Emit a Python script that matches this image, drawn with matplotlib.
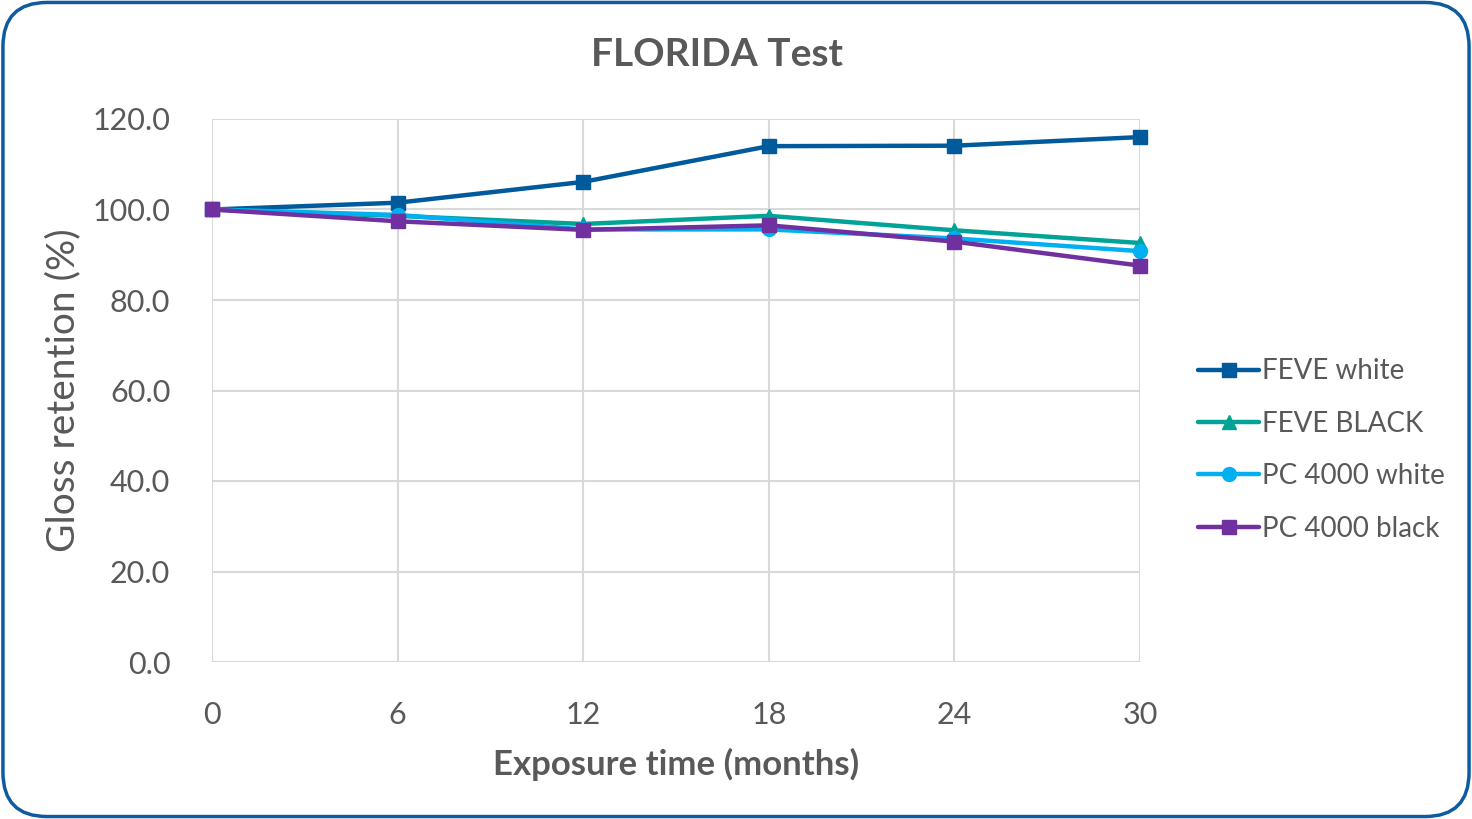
import matplotlib
matplotlib.use("Agg")
import matplotlib.pyplot as plt
from matplotlib.patches import FancyBboxPatch

months = [0, 6, 12, 18, 24, 30]
feve_white = [100.0, 101.5, 106.1, 114.0, 114.1, 116.0]
feve_black = [100.0, 98.6, 96.8, 98.6, 95.4, 92.6]
pc_white = [100.0, 98.8, 95.6, 95.6, 93.6, 90.8]
pc_black = [100.0, 97.4, 95.5, 96.5, 92.9, 87.6]
series_names = ["FEVE white", "FEVE BLACK", "PC 4000 white", "PC 4000 black"]
y_ticks = [0, 20, 40, 60, 80, 100, 120]

colors = ["#005A9C", "#00A396", "#00B0F0", "#7030A0"]
markers = ["s", "^", "o", "s"]

plt.rcParams['font.family'] = ['Lato', 'DejaVu Sans']
text_color = "#595959"

fig = plt.figure(figsize=(14.72, 8.19), dpi=100)
ax = fig.add_axes([212/1472, 1 - 662/819, (1140-212)/1472, (662-119)/819])

for vals, name, c, m in zip([feve_white, feve_black, pc_white, pc_black], series_names, colors, markers):
    ax.plot(months, vals, color=c, lw=3.2, marker=m, markersize=10,
            label=name, solid_capstyle='round', zorder=3)

ax.set_xlim(0, 30)
ax.set_ylim(0, 120)
ax.set_xticks(months)
ax.set_yticks(y_ticks)
ax.set_yticklabels([f"{v:.1f}" for v in y_ticks])
ax.grid(True, color="#D9D9D9", lw=1.5)
ax.set_axisbelow(True)
for s in ax.spines.values():
    s.set_visible(False)
ax.tick_params(length=0, labelsize=22, labelcolor=text_color)
ax.tick_params(axis='x', pad=28)
ax.tick_params(axis='y', pad=30)
ax.set_xlabel("Exposure time (months)", fontsize=25, fontweight='bold', color=text_color, labelpad=14)
ax.set_ylabel("Gloss retention (%)", fontsize=28, color=text_color, labelpad=8)
for line in ax.lines:
    line.set_clip_on(False)

fig.text(717/1472, 1 - 55/819, "FLORIDA Test", ha='center', va='center', fontsize=28,
         fontweight='bold', color=text_color)

leg = fig.legend(loc='center left', bbox_to_anchor=(1198/1472, 1 - 450/819), frameon=False,
                 fontsize=20, labelcolor=text_color, handlelength=2.2, handletextpad=0.1,
                 labelspacing=0.95, borderpad=0, borderaxespad=0)

border = FancyBboxPatch((0.002, 0.003), 0.996, 0.994, boxstyle="round,pad=0,rounding_size=0.03",
                        transform=fig.transFigure, fill=False, edgecolor="#0F5BA0", lw=2.5,
                        mutation_aspect=1472/819)
fig.patches.append(border)

fig.savefig("out.png", dpi=100)
